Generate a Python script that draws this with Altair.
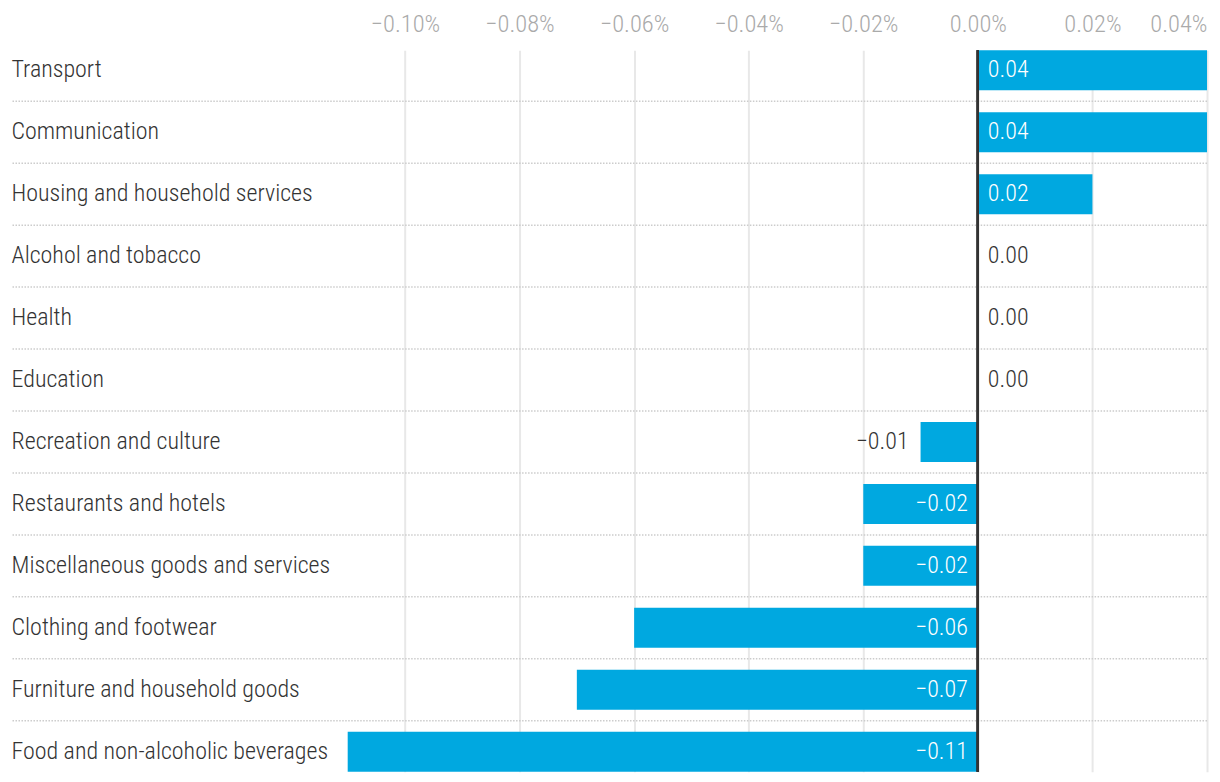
import altair as alt
import pandas as pd

categories = [
    "Transport", "Communication", "Housing and household services",
    "Alcohol and tobacco", "Health", "Education", "Recreation and culture",
    "Restaurants and hotels", "Miscellaneous goods and services",
    "Clothing and footwear", "Furniture and household goods",
    "Food and non-alcoholic beverages",
]
values = [0.04, 0.04, 0.02, 0.00, 0.00, 0.00, -0.01, -0.02, -0.02, -0.06, -0.07, -0.11]
tick_values = [-0.10, -0.08, -0.06, -0.04, -0.02, 0.00, 0.02, 0.04]

FONT = "Roboto Condensed, 'Liberation Sans Narrow', 'DejaVu Sans Condensed', Roboto, sans-serif"
BAR = "#00a8e0"
DARK = "#333333"

df = pd.DataFrame({"category": categories, "value": values})
sep = pd.DataFrame({"category": categories[1:]})

y_scale = alt.Scale(domain=categories, paddingInner=22 / 62, paddingOuter=0)
x_scale = alt.Scale(domain=[-0.1686, 0.04], nice=False, zero=False)

x_axis = alt.Axis(
    orient="top", values=tick_values, title=None,
    labelExpr="format(datum.value, '.2f') + '%'",
    labelFont=FONT, labelFontSize=24.5, labelFontWeight=300, labelColor="#aaaaaa",
    labelPadding=14, labelFlush=True, ticks=False, tickSize=0, domain=False,
    grid=True, gridColor="#e8e8e8", gridWidth=2,
)
y_axis = alt.Axis(
    title=None, labelAlign="left", labelPadding=1, ticks=False, tickSize=0,
    domain=False, grid=False, labelFont=FONT, labelFontSize=24,
    labelFontWeight=300, labelColor=DARK, labelLimit=0,
)

base = alt.Chart(df)

separators = alt.Chart(sep).mark_rule(
    color="#cccccc", strokeWidth=1.5, strokeDash=[1.5, 1.5], yOffset=-11
).encode(
    y=alt.Y("category:N", scale=y_scale, bandPosition=0, axis=y_axis, sort=categories),
)

bars = base.mark_bar(color=BAR).encode(
    y=alt.Y("category:N", scale=y_scale, axis=y_axis, sort=categories),
    x=alt.X("value:Q", scale=x_scale, axis=x_axis),
)

zero = base.mark_rule(color=DARK, strokeWidth=2).encode(x=alt.datum(0))

txt = dict(font=FONT, fontSize=24, fontWeight=300, baseline="middle")

pos_lab = base.transform_filter("datum.value > 0").mark_text(
    align="left", dx=10, color="white", **txt
).encode(
    y=alt.Y("category:N", scale=y_scale, sort=categories),
    x=alt.datum(0),
    text=alt.Text("value:Q", format=".2f"),
)
zero_lab = base.transform_filter("datum.value == 0").mark_text(
    align="left", dx=10, color=DARK, **txt
).encode(
    y=alt.Y("category:N", scale=y_scale, sort=categories),
    x=alt.datum(0),
    text=alt.Text("value:Q", format=".2f"),
)
neg_in = base.transform_filter("datum.value <= -0.015").mark_text(
    align="right", dx=-10, color="white", **txt
).encode(
    y=alt.Y("category:N", scale=y_scale, sort=categories),
    x=alt.datum(0),
    text=alt.Text("value:Q", format=".2f"),
)
neg_out = base.transform_filter("datum.value < 0 && datum.value > -0.015").mark_text(
    align="right", dx=-12, color=DARK, **txt
).encode(
    y=alt.Y("category:N", scale=y_scale, sort=categories),
    x=alt.X("value:Q", scale=x_scale),
    text=alt.Text("value:Q", format=".2f"),
)

chart = alt.layer(separators, bars, zero, pos_lab, zero_lab, neg_in, neg_out).properties(
    width=1196, height=722, background="white",
    padding={"left": 3, "top": 3, "right": 4, "bottom": 2},
).configure_view(stroke=None)

chart.save("out.html", embed_options={"renderer": "svg", "actions": False})
